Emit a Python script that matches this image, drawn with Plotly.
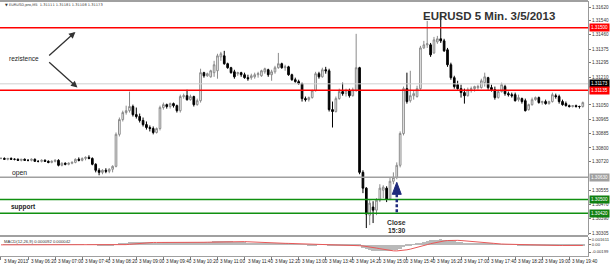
import pandas as pd
import plotly.graph_objects as go

# ---------------- data (EURUSD M5, 3 May 2013) ----------------
opens = [1.30739,1.30739,1.30734,1.30739,1.30734,1.30734,1.30728,1.30734,1.30728,1.30728,
         1.30734,1.30722,1.30722,1.30728,1.30722,1.30716,1.30722,1.30728,1.30699,1.30711,
         1.30705,1.30711,1.30716,1.30734,1.30728,1.30739,1.30745,1.30739,1.30705,1.30670,
         1.30658,1.30670,1.30664,1.30676,1.30693,1.30879,1.30965,1.31006,1.31017,1.31041,
         1.30994,1.30983,1.30960,1.30936,1.30919,1.30913,1.30890,1.30913,1.31035,1.31052,
         1.31041,1.31058,1.31046,1.31017,1.31099,1.31104,1.31081,1.31099,1.31052,1.31075,
         1.31238,1.31220,1.31214,1.31238,1.31249,1.31330,1.31336,1.31290,1.31267,1.31243,
         1.31232,1.31238,1.31226,1.31209,1.31209,1.31214,1.31226,1.31220,1.31243,1.31255,
         1.31226,1.31243,1.31267,1.31290,1.31267,1.31272,1.31226,1.31197,1.31186,1.31174,
         1.31087,1.31081,1.31093,1.31133,1.31232,1.31214,1.31255,1.31249,1.31023,1.31012,
         1.31087,1.31128,1.31116,1.31133,1.31104,1.31133,1.31267,1.30658,1.30566,1.30409,
         1.30456,1.30438,1.30496,1.30554,1.30566,1.30502,1.30606,1.30629,1.30699,1.30884,
         1.31145,1.31075,1.31104,1.31099,1.31145,1.31382,1.31400,1.31400,1.31353,1.31417,
         1.31435,1.31423,1.31371,1.31284,1.31209,1.31168,1.31145,1.31122,1.31104,1.31139,
         1.31145,1.31151,1.31151,1.31180,1.31209,1.31151,1.31139,1.31093,1.31128,1.31157,
         1.31116,1.31110,1.31110,1.31081,1.31087,1.31075,1.31023,1.31052,1.31081,1.31093,
         1.31064,1.31070,1.31058,1.31070,1.31104,1.31099,1.31070,1.31058,1.31046,1.31041,
         1.31046,1.31041,1.31041]
highs = [1.30745,1.30745,1.30739,1.30745,1.30739,1.30739,1.30734,1.30739,1.30734,1.30739,
         1.30739,1.30728,1.30734,1.30734,1.30728,1.30728,1.30734,1.30734,1.30716,1.30716,
         1.30716,1.30722,1.30739,1.30745,1.30745,1.30751,1.30757,1.30745,1.30711,1.30682,
         1.30676,1.30682,1.30682,1.30699,1.30890,1.30977,1.31017,1.31046,1.31128,1.31052,
         1.31035,1.31000,1.30977,1.30954,1.30931,1.30925,1.30919,1.31046,1.31064,1.31058,
         1.31064,1.31064,1.31052,1.31110,1.31116,1.31139,1.31110,1.31104,1.31087,1.31261,
         1.31243,1.31238,1.31255,1.31307,1.31348,1.31359,1.31365,1.31296,1.31272,1.31255,
         1.31243,1.31243,1.31238,1.31226,1.31232,1.31238,1.31243,1.31255,1.31267,1.31261,
         1.31255,1.31278,1.31353,1.31296,1.31284,1.31278,1.31232,1.31209,1.31197,1.31180,
         1.31099,1.31099,1.31139,1.31243,1.31243,1.31267,1.31272,1.31261,1.31070,1.31099,
         1.31145,1.31180,1.31145,1.31145,1.31151,1.31464,1.31272,1.30670,1.30572,1.30496,
         1.30490,1.30508,1.30589,1.30583,1.30577,1.30629,1.30658,1.30716,1.30896,1.31157,
         1.31238,1.31249,1.31133,1.31162,1.31394,1.31423,1.31539,1.31411,1.31446,1.31452,
         1.31579,1.31435,1.31382,1.31296,1.31220,1.31191,1.31168,1.31145,1.31151,1.31157,
         1.31162,1.31168,1.31203,1.31238,1.31214,1.31168,1.31157,1.31139,1.31180,1.31168,
         1.31128,1.31122,1.31122,1.31110,1.31093,1.31087,1.31058,1.31093,1.31099,1.31099,
         1.31075,1.31081,1.31075,1.31122,1.31116,1.31110,1.31081,1.31070,1.31052,1.31046,
         1.31052,1.31046,1.31070]
lows = [1.30734,1.30734,1.30728,1.30734,1.30728,1.30728,1.30722,1.30728,1.30722,1.30722,
        1.30722,1.30716,1.30716,1.30722,1.30711,1.30711,1.30716,1.30693,1.30693,1.30699,
        1.30699,1.30705,1.30711,1.30722,1.30722,1.30728,1.30734,1.30699,1.30658,1.30641,
        1.30647,1.30653,1.30653,1.30658,1.30687,1.30867,1.30954,1.30994,1.31006,1.30983,
        1.30971,1.30948,1.30925,1.30907,1.30896,1.30879,1.30884,1.30902,1.31023,1.31029,
        1.31029,1.31035,1.31006,1.31006,1.31087,1.31075,1.31075,1.31041,1.31046,1.31064,
        1.31209,1.31214,1.31209,1.31214,1.31203,1.31307,1.31284,1.31261,1.31232,1.31203,
        1.31220,1.31214,1.31203,1.31191,1.31197,1.31203,1.31209,1.31214,1.31232,1.31214,
        1.31191,1.31232,1.31261,1.31261,1.31249,1.31220,1.31191,1.31180,1.31168,1.31070,
        1.31070,1.31070,1.31087,1.31128,1.31203,1.31209,1.31232,1.31012,1.30919,1.31006,
        1.31081,1.31104,1.31099,1.31093,1.31099,1.31128,1.30647,1.30537,1.30334,1.30351,
        1.30363,1.30409,1.30485,1.30508,1.30485,1.30496,1.30589,1.30618,1.30687,1.30873,
        1.31058,1.31064,1.31081,1.31093,1.31139,1.31377,1.31382,1.31330,1.31348,1.31406,
        1.31411,1.31359,1.31272,1.31197,1.31145,1.31139,1.31093,1.31058,1.31099,1.31122,
        1.31128,1.31139,1.31145,1.31157,1.31139,1.31128,1.31081,1.31087,1.31122,1.31104,
        1.31099,1.31093,1.31070,1.31070,1.31058,1.31012,1.31017,1.31046,1.31075,1.31058,
        1.31052,1.31052,1.31052,1.31064,1.31087,1.31058,1.31046,1.31041,1.31035,1.31035,
        1.31035,1.31029,1.31035]
closes = [1.30739,1.30734,1.30739,1.30734,1.30734,1.30728,1.30734,1.30728,1.30728,1.30734,
          1.30722,1.30722,1.30728,1.30722,1.30716,1.30722,1.30728,1.30699,1.30711,1.30705,
          1.30711,1.30716,1.30734,1.30728,1.30739,1.30745,1.30739,1.30705,1.30670,1.30658,
          1.30670,1.30664,1.30676,1.30693,1.30879,1.30965,1.31006,1.31017,1.31041,1.30994,
          1.30983,1.30960,1.30936,1.30919,1.30913,1.30890,1.30913,1.31035,1.31052,1.31041,
          1.31058,1.31046,1.31017,1.31099,1.31104,1.31081,1.31099,1.31052,1.31075,1.31238,
          1.31220,1.31232,1.31249,1.31284,1.31336,1.31348,1.31290,1.31267,1.31238,1.31214,
          1.31238,1.31226,1.31209,1.31203,1.31220,1.31226,1.31232,1.31249,1.31261,1.31226,
          1.31243,1.31267,1.31290,1.31267,1.31272,1.31226,1.31197,1.31186,1.31174,1.31087,
          1.31081,1.31093,1.31133,1.31232,1.31214,1.31255,1.31249,1.31023,1.31012,1.31087,
          1.31128,1.31116,1.31133,1.31104,1.31139,1.31267,1.30658,1.30566,1.30415,1.30479,
          1.30438,1.30496,1.30566,1.30572,1.30502,1.30606,1.30629,1.30699,1.30884,1.31145,
          1.31070,1.31104,1.31116,1.31145,1.31382,1.31400,1.31406,1.31342,1.31429,1.31435,
          1.31423,1.31365,1.31284,1.31209,1.31157,1.31145,1.31122,1.31104,1.31139,1.31145,
          1.31157,1.31157,1.31191,1.31214,1.31151,1.31139,1.31093,1.31128,1.31168,1.31116,
          1.31110,1.31104,1.31075,1.31093,1.31070,1.31017,1.31052,1.31081,1.31093,1.31064,
          1.31070,1.31058,1.31070,1.31110,1.31099,1.31070,1.31052,1.31046,1.31041,1.31046,
          1.31041,1.31041,1.31064]

first_bar = "2013-05-03 05:40"
x_labels = ["3 May 2013", "3 May 06:20", "3 May 07:00", "3 May 07:40", "3 May 08:20",
            "3 May 09:00", "3 May 09:40", "3 May 10:20", "3 May 11:00", "3 May 11:40",
            "3 May 12:20", "3 May 13:00", "3 May 13:40", "3 May 14:20", "3 May 15:00",
            "3 May 15:40", "3 May 16:20", "3 May 17:00", "3 May 17:40", "3 May 18:20",
            "3 May 19:00", "3 May 19:40"]
price_ticks = [1.31620, 1.31540, 1.31460, 1.31375, 1.31295, 1.31210, 1.31050, 1.30965,
               1.30885, 1.30800, 1.30720, 1.30555, 1.30470, 1.30390, 1.30305]
price_tick_text = ["1.31620", "1.31540", "1.31460", "1.31375", "1.31295", "1.31210", "1.31050",
                   "1.30965", "1.30885", "1.30800", "1.30720", "1.30555", "1.30470", "1.30390",
                   "1.30305"]
macd_ticks = [0.001611, 0.0, -0.00199]
macd_tick_text = ["0.001611", "0.00", "-0.00199"]

resist_high = 1.31500
resist_low = 1.31135
bid_price = 1.31173
day_open = 1.30630
support_high = 1.30500
support_low = 1.30420

header_text = "\u25bc EURUSD,pro,M5  1.31111 1.31181 1.31108 1.31173"
macd_text = "MACD(12,26,9) 0.000092 0.000042"
title_text = "EURUSD 5 Min. 3/5/2013"

# ---------------- derived ----------------
times = pd.date_range(first_bar, periods=len(closes), freq="5min")
label_times = list(times[::8][:len(x_labels)])
cs = pd.Series(closes)
macd_main = cs.ewm(span=12, adjust=False).mean() - cs.ewm(span=26, adjust=False).mean()
macd_signal = macd_main.rolling(9, min_periods=1).mean()

x_start = times[0] - pd.Timedelta(seconds=88)
x_end = times[-1] + pd.Timedelta(seconds=460)

FONT = "Liberation Sans"

fig = go.Figure()
fig.add_trace(go.Candlestick(
    x=times, open=opens, high=highs, low=lows, close=closes,
    increasing=dict(line=dict(color="#8a8a8a", width=1), fillcolor="white"),
    decreasing=dict(line=dict(color="black", width=1), fillcolor="black"),
    whiskerwidth=0, showlegend=False, hoverinfo="skip", xaxis="x", yaxis="y"))
fig.add_trace(go.Bar(
    x=times, y=macd_main, marker=dict(color="#b9b9b9", line=dict(width=0)),
    showlegend=False, hoverinfo="skip", xaxis="x", yaxis="y2"))
fig.add_trace(go.Scatter(
    x=times, y=macd_signal, mode="lines", line=dict(color="#e85858", width=1),
    showlegend=False, hoverinfo="skip", xaxis="x", yaxis="y2"))

shapes = []
def hline(y, color, width):
    shapes.append(dict(type="line", xref="paper", x0=0, x1=1, yref="y", y0=y, y1=y,
                       line=dict(color=color, width=width)))
hline(bid_price, "#d0d0d0", 1)
hline(resist_high, "#ff0000", 1.5)
hline(resist_low, "#ff0000", 1.5)
hline(day_open, "#a0a0a0", 1.5)
hline(support_high, "#109010", 1.5)
hline(support_low, "#109010", 1.5)
# pane borders
shapes.append(dict(type="line", xref="paper", x0=0, x1=1, yref="paper", y0=1, y1=1,
                   line=dict(color="#a0a0a0", width=2)))
shapes.append(dict(type="line", xref="paper", x0=0, x1=1, yref="paper", y0=0.078, y1=0.078,
                   line=dict(color="#a0a0a0", width=2)))
# blue arrow (close 15:30)
arrow_t = pd.Timestamp("2013-05-03 15:25")
arrow_tip = 1.30600
navy = "#1f2a7c"
shapes.append(dict(type="path", xref="x", yref="y", xsizemode="pixel", ysizemode="pixel",
                   xanchor=arrow_t, yanchor=arrow_tip,
                   path="M 0,0 L -4.5,-12 L 4.5,-12 Z", fillcolor=navy, line=dict(color=navy, width=1)))
shapes.append(dict(type="line", xref="x", yref="y", xsizemode="pixel", ysizemode="pixel",
                   xanchor=arrow_t, yanchor=arrow_tip, x0=0, x1=0, y0=-12, y1=-32,
                   line=dict(color=navy, width=2.5, dash="3px,2px")))

ann = []
def label_box(y, text, bg, fg="white"):
    ann.append(dict(x=1, xref="paper", xanchor="left", y=y, yref="y", yanchor="middle",
                    text=text, showarrow=False, bgcolor=bg, borderpad=1, xshift=1,
                    font=dict(size=4.6, color=fg, family=FONT)))
label_box(resist_high, "1.31500", "#ff0000")
label_box(bid_price, "1.31173", "#000000")
label_box(resist_low, "1.31135", "#ff0000")
label_box(day_open, "1.30630", "#a0a0a0")
label_box(support_high, "1.30500", "#108010")
label_box(support_low, "1.30420", "#108010")

for t, lab in zip(label_times, x_labels):
    ann.append(dict(x=t, xref="x", y=-0.004, yref="paper", yanchor="top", xanchor="left",
                    xshift=1, text=lab, showarrow=False,
                    font=dict(size=4.6, color="#222", family=FONT)))

ann.append(dict(x=0.005, xref="paper", y=0.985, yref="paper", xanchor="left", yanchor="middle",
                text=header_text, showarrow=False, font=dict(size=3.6, color="#333", family="DejaVu Sans")))
ann.append(dict(x=0.004, xref="paper", y=0.058, yref="paper", xanchor="left", yanchor="middle",
                text=macd_text, showarrow=False, font=dict(size=4.2, color="#333", family=FONT)))
ann.append(dict(x=0.832, xref="paper", y=0.941, yref="paper", xanchor="center", yanchor="middle",
                text="<b>" + title_text + "</b>", showarrow=False,
                font=dict(size=11.5, color="#333333", family=FONT)))

t_text = pd.Timestamp("2013-05-03 06:14")
ann.append(dict(x=t_text, xref="x", y=1.31319, yref="y", text="rezistence", showarrow=False,
                font=dict(size=6.5, color="#222", family=FONT)))
ann.append(dict(x=pd.Timestamp("2013-05-03 06:08"), xref="x", y=1.30653, yref="y", text="open",
                showarrow=False, font=dict(size=6.8, color="#222", family=FONT)))
ann.append(dict(x=t_text, xref="x", y=1.30456, yref="y", text="<b>support</b>", showarrow=False,
                font=dict(size=6.5, color="#222", family=FONT)))
ann.append(dict(x=arrow_t, xref="x", y=1.30369, yref="y", text="<b>Close</b>", showarrow=False,
                font=dict(size=6.8, color="#333", family=FONT)))
ann.append(dict(x=arrow_t, xref="x", y=1.30322, yref="y", text="<b>15:30</b>", showarrow=False,
                font=dict(size=6.8, color="#333", family=FONT)))
# rezistence arrows
ann.append(dict(x=pd.Timestamp("2013-05-03 07:30"), y=1.31475, xref="x", yref="y",
                ax=pd.Timestamp("2013-05-03 06:49"), ay=1.31330, axref="x", ayref="y",
                text="", showarrow=True, arrowhead=2, arrowsize=1, arrowwidth=1.3, arrowcolor="#333"))
ann.append(dict(x=pd.Timestamp("2013-05-03 07:33"), y=1.31151, xref="x", yref="y",
                ax=pd.Timestamp("2013-05-03 06:49"), ay=1.31307, axref="x", ayref="y",
                text="", showarrow=True, arrowhead=2, arrowsize=1, arrowwidth=1.3, arrowcolor="#333"))

fig.update_layout(
    width=610, height=265, margin=dict(l=0, r=19, t=0, b=9),
    paper_bgcolor="white", plot_bgcolor="white", showlegend=False, bargap=0,
    shapes=shapes, annotations=ann,
    xaxis=dict(range=[x_start, x_end], anchor="y2", domain=[0, 1], showgrid=False, zeroline=False,
               showticklabels=False, ticks="outside", ticklen=3, tickcolor="#808080",
               tickvals=label_times, showline=True, linecolor="#a0a0a0", linewidth=1,
               rangeslider=dict(visible=False)),
    yaxis=dict(domain=[0.082, 1], range=[1.30293, 1.31655], side="right", showgrid=False,
               zeroline=False, tickvals=price_ticks, ticktext=price_tick_text,
               tickfont=dict(size=4.6, color="#333", family=FONT), ticks="outside", ticklen=2,
               tickcolor="#777", showline=True, linecolor="#999", linewidth=1),
    yaxis2=dict(domain=[0, 0.074], range=[-0.0031, 0.00214], side="right", showgrid=False,
                zeroline=False, tickvals=macd_ticks, ticktext=macd_tick_text,
                tickfont=dict(size=4.2, color="#333", family=FONT), ticks="outside", ticklen=2,
                tickcolor="#777", showline=True, linecolor="#999", linewidth=1),
)
fig.write_html("out.html")
